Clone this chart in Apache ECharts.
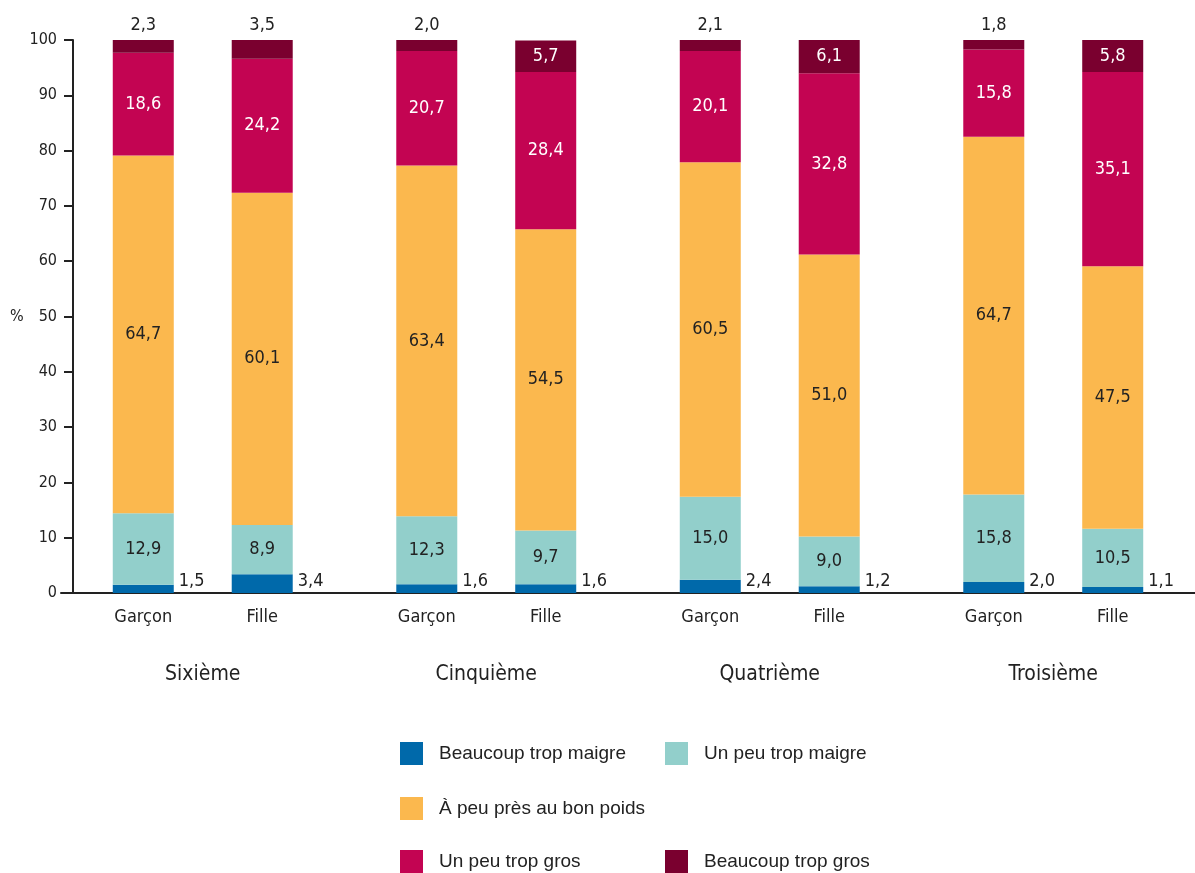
<!DOCTYPE html>
<html>
<head>
<meta charset="utf-8">
<script src="https://cdn.jsdelivr.net/npm/echarts@6/dist/echarts.min.js"></script>
<style>html,body{margin:0;padding:0;background:#fff}#c{width:1195px;height:873px}</style>
</head>
<body>
<div id="c"></div>
<script>
var levels = ['Sixième', 'Cinquième', 'Quatrième', 'Troisième'];
var sexes = ['Garçon', 'Fille'];
var seriesNames = ['Beaucoup trop maigre', 'Un peu trop maigre', 'À peu près au bon poids', 'Un peu trop gros', 'Beaucoup trop gros'];
var colors = ['#0069aa', '#92cfcb', '#fbb84e', '#c30452', '#7a002f'];
// values per level for boys (Garçon)
var garconBeaucoupMaigre = [1.5, 1.6, 2.4, 2.0];
var garconPeuMaigre = [12.9, 12.3, 15.0, 15.8];
var garconBonPoids = [64.7, 63.4, 60.5, 64.7];
var garconPeuGros = [18.6, 20.7, 20.1, 15.8];
var garconBeaucoupGros = [2.3, 2.0, 2.1, 1.8];
// values per level for girls (Fille)
var filleBeaucoupMaigre = [3.4, 1.6, 1.2, 1.1];
var fillePeuMaigre = [8.9, 9.7, 9.0, 10.5];
var filleBonPoids = [60.1, 54.5, 51.0, 47.5];
var fillePeuGros = [24.2, 28.4, 32.8, 35.1];
var filleBeaucoupGros = [3.5, 5.7, 6.1, 5.8];
var yTicks = [0, 10, 20, 30, 40, 50, 60, 70, 80, 90, 100];

var FONT = "'DejaVu Sans Condensed', 'Liberation Sans Narrow', sans-serif";
var LFONT = "'Liberation Sans', sans-serif";
var TXT = '#222';
function fmt(v) { return String(v.toFixed(1)).replace('.', ','); }

var groups = [
  { stack: 'G', label: sexes[0], data: [garconBeaucoupMaigre, garconPeuMaigre, garconBonPoids, garconPeuGros, garconBeaucoupGros] },
  { stack: 'F', label: sexes[1], data: [filleBeaucoupMaigre, fillePeuMaigre, filleBonPoids, fillePeuGros, filleBeaucoupGros] }
];

var series = [];
groups.forEach(function (g) {
  // zero-height base series carrying the sex label under each bar
  series.push({
    type: 'bar', stack: g.stack, name: g.label, barWidth: 61, barGap: '95%',
    data: levels.map(function () { return 0; }),
    silent: true,
    label: { show: true, position: 'bottom', distance: 15, formatter: g.label,
      fontFamily: FONT, fontSize: 18, color: TXT }
  });
  g.data.forEach(function (arr, si) {
    var lbl;
    if (si === 0) {
      lbl = { show: true, position: ['100%', '100%'], align: 'left', verticalAlign: 'bottom',
        offset: [5, -3], color: TXT };
    } else if (si >= 3) {
      lbl = { show: true, position: 'inside', color: '#fff' };
    } else {
      lbl = { show: true, position: 'inside', color: TXT };
    }
    lbl.fontFamily = FONT; lbl.fontSize = 18;
    lbl.formatter = function (p) { return fmt(p.value); };
    series.push({
      type: 'bar', stack: g.stack, name: seriesNames[si], barWidth: 61, barGap: '95%',
      itemStyle: { color: colors[si] },
      label: lbl,
      data: arr.map(function (v) {
        if (si === 4 && v < 4) {
          return { value: v, label: { position: 'top', distance: 6, color: TXT } };
        }
        return v;
      })
    });
  });
});

var legendPos = [
  { left: 400, top: 742 }, { left: 665, top: 742 },
  { left: 400, top: 797 },
  { left: 400, top: 850 }, { left: 665, top: 850 }
];
var legends = seriesNames.map(function (n, i) {
  return {
    data: [n], left: legendPos[i].left, top: legendPos[i].top, padding: 0,
    itemWidth: 23, itemHeight: 23, icon: 'rect',
    textStyle: { fontFamily: LFONT, fontSize: 19, color: TXT, padding: [0, 0, 0, 11] }
  };
});

var chart = echarts.init(document.getElementById('c'), null, { renderer: 'canvas' });
chart.setOption({
  animation: false,
  backgroundColor: '#fff',
  grid: { left: 61, right: 0, top: 40, bottom: 280, containLabel: false },
  xAxis: {
    type: 'category', data: levels,
    axisLine: { lineStyle: { color: TXT, width: 2 } },
    axisTick: { show: false },
    axisLabel: { margin: 71, fontFamily: FONT, fontSize: 21, color: TXT }
  },
  yAxis: {
    type: 'value', min: 0, max: 100, interval: 10, offset: -12,
    name: '%', nameLocation: 'middle', nameRotate: 0, nameGap: 46,
    nameTextStyle: { fontFamily: FONT, fontSize: 16, color: TXT },
    axisLine: { show: true, lineStyle: { color: TXT, width: 2 } },
    axisTick: { show: true, length: 9, lineStyle: { color: TXT, width: 2 } },
    splitLine: { show: false },
    axisLabel: { margin: 16, fontFamily: FONT, fontSize: 16, color: TXT,
      formatter: function (v) { return yTicks.indexOf(v) >= 0 ? String(v) : ''; } }
  },
  legend: legends,
  series: series
});
</script>
</body>
</html>
